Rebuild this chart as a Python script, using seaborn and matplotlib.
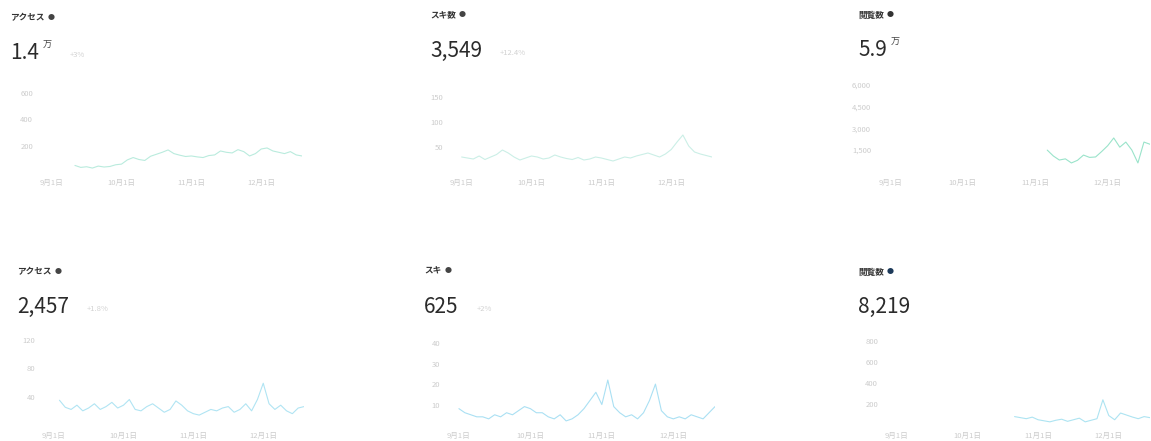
import numpy as np
import pandas as pd
import matplotlib
matplotlib.use("Agg")
import matplotlib.pyplot as plt
import seaborn as sns

nan = np.nan

# ---- data (values approximate) ----
titles = ["アクセス", "スキ数", "閲覧数", "アクセス", "スキ", "閲覧数"]
totals = ["1.4", "3,549", "5.9", "2,457", "625", "8,219"]
total_units = ["万", "", "万", "", "", ""]
changes = ["+3%", "+12.4%", "", "+1.8%", "+2%", ""]
date_labels = ["9月1日", "10月1日", "11月1日", "12月1日"]
date_ticks = [2, 14, 26, 38]

access_top = [nan] * 6 + [50, 35, 40, 30, 45, 38, 42, 55, 60, 92,
                          110, 95, 88, 120, 135, 150, 168, 140, 128, 118,
                          122, 115, 110, 125, 130, 160, 150, 145, 170, 155,
                          122, 140, 175, 183, 160, 150, 140, 155, 130, 122]
likes_top = [nan] * 2 + [30, 28, 26, 32, 25, 30, 35, 44, 38, 30,
                         24, 28, 32, 30, 26, 28, 34, 30, 27, 25,
                         29, 24, 26, 30, 28, 25, 22, 26, 30, 28,
                         32, 35, 38, 34, 30, 36, 45, 60, 74, 52,
                         40, 36, 33, 30]
views_top = [nan] * 28 + [1500, 1100, 820, 900, 620, 800, 1160, 1000, 1030, 1400,
                          1800, 2330, 1700, 2050, 1500, 620, 2050, 1900]
access_bottom = [nan] * 3 + [35, 25, 22, 28, 20, 24, 30, 22, 26, 32,
                             24, 28, 36, 22, 20, 26, 30, 24, 18, 22,
                             34, 28, 20, 16, 14, 18, 22, 20, 24, 26,
                             18, 22, 30, 20, 36, 59, 30, 22, 28, 20,
                             16, 24, 26]
likes_bottom = [nan] * 2 + [8, 6, 5, 4, 4, 3, 5, 4, 6, 5,
                            7, 9, 8, 6, 6, 4, 3, 5, 2, 3,
                            5, 8, 12, 16, 10, 22, 9, 6, 4, 5,
                            3, 6, 12, 20, 7, 4, 3, 4, 3, 5,
                            4, 3, 6, 9]
views_bottom = [nan] * 22 + [80, 70, 60, 75, 50, 40, 30, 45, 55, 35,
                             50, 65, 30, 45, 60, 240, 90, 50, 114, 95,
                             76, 60, 80, 70]

series = [access_top, likes_top, views_top, access_bottom, likes_bottom, views_bottom]
y_ticks = [[200, 400, 600], [50, 100, 150], [1500, 3000, 4500, 6000],
           [40, 80, 120], [10, 20, 30, 40], [200, 400, 600, 800]]
y_tick_labels = [["200", "400", "600"], ["50", "100", "150"], ["1,500", "3,000", "4,500", "6,000"],
                 ["40", "80", "120"], ["10", "20", "30", "40"], ["200", "400", "600", "800"]]
y_max = [700, 184, 6300, 130, 45, 876]

# ---- style ----
sns.set_theme(style="white")
plt.rcParams['font.family'] = ['Noto Sans CJK JP', 'DejaVu Sans']

W, H = 1151, 441
fig = plt.figure(figsize=(W / 100, H / 100), dpi=100)

def fx(px):
    return px / W

def fy(py):
    return 1 - py / H

# panel layout in pixels: (axes left, axes width, axes top, axes bottom, text x, title y, number y)
layout = [
    (40, 262, 80, 172, 10, 18, 53),
    (450, 262, 80, 172, 430, 15, 51),
    (878, 272, 80, 172, 858, 15, 50),
    (42, 262, 333, 425, 17, 272, 307),
    (447, 268, 333, 425, 424, 271, 307),
    (885, 265, 333, 425, 858, 272, 307),
]
line_colors = ["#9ce3cf", "#b5e8dc", "#6fd8b4", "#8fd9ee", "#86d3ee", "#8ad8ec"]
dot_colors = ["#444444", "#444444", "#333333", "#444444", "#444444", "#1d3a5a"]

for i, (ax_l, ax_w, ax_t, ax_b, tx, ty, ny) in enumerate(layout):
    ax = fig.add_axes([fx(ax_l), fy(ax_b), fx(ax_w), (ax_b - ax_t) / H])
    df = pd.DataFrame({"day": np.arange(len(series[i])), "value": series[i]})
    sns.lineplot(data=df, x="day", y="value", ax=ax, color=line_colors[i], lw=0.8, alpha=0.7)
    ax.set_xlim(0, 45)
    ax.set_ylim(0, y_max[i])
    ax.set_xticks(date_ticks)
    ax.set_xticklabels(date_labels)
    ax.set_yticks(y_ticks[i])
    ax.set_yticklabels(y_tick_labels[i])
    ax.tick_params(axis="both", length=0, labelsize=5.5, labelcolor="#cccccc", pad=5)
    ax.set_xlabel("")
    ax.set_ylabel("")
    for s in ax.spines.values():
        s.set_visible(False)
    ax.set_facecolor("none")

    # title + dot
    t = fig.text(fx(tx), fy(ty), titles[i], fontsize=6.2, fontweight="bold",
                 color="#333333", va="center", ha="left")
    fig.canvas.draw()
    bb = t.get_window_extent()
    fig.text(bb.x1 / W + fx(3), fy(ty), "●", fontsize=5, color=dot_colors[i],
             va="center", ha="left")

    # big number
    n = fig.text(fx(tx), fy(ny), totals[i], fontsize=15, color="#2b2b2b",
                 va="center", ha="left")
    fig.canvas.draw()
    nb = n.get_window_extent()
    x_after = nb.x1 / W
    if total_units[i]:
        u = fig.text(x_after + fx(4), fy(ny - 8), total_units[i], fontsize=6.5,
                     color="#444444", va="center", ha="left")
        fig.canvas.draw()
        x_after = u.get_window_extent().x1 / W
    if changes[i]:
        fig.text(x_after + fx(18), fy(ny + 2), changes[i], fontsize=5.5,
                 color="#d2d2d2", va="center", ha="left")

fig.savefig("out.png", dpi=100, facecolor="white")
